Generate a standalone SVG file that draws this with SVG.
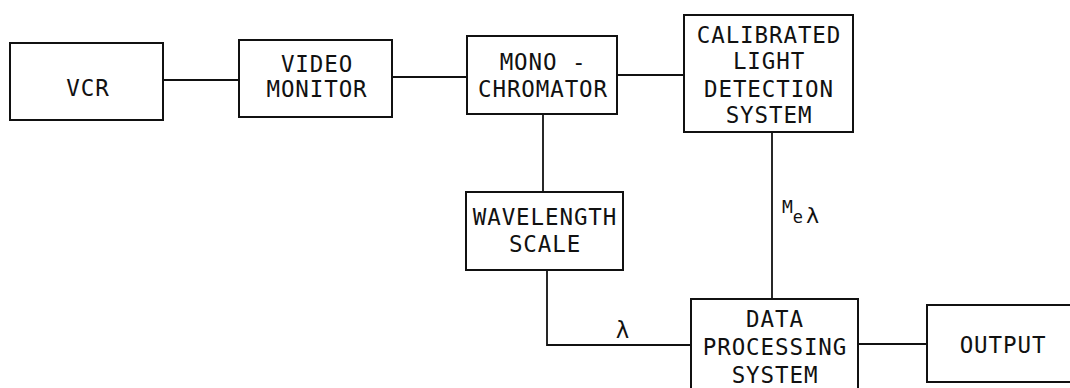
<svg xmlns="http://www.w3.org/2000/svg" width="1070" height="388" viewBox="0 0 1070 388">
<style>
.box{fill:#fff;stroke:#111;stroke-width:2}
.ln{fill:none;stroke:#111;stroke-width:1.8}
text{font-family:"DejaVu Sans Mono","Liberation Mono",monospace;font-size:22.5px;letter-spacing:0.9px;fill:#111;text-anchor:middle}
</style>
<rect width="1070" height="388" fill="#fff"/>
<g id="connectors">
<line class="ln" x1="163" y1="80" x2="239" y2="80"/>
<line class="ln" x1="392" y1="77" x2="467" y2="77"/>
<line class="ln" x1="617" y1="75" x2="684" y2="75"/>
<line class="ln" x1="543" y1="114" x2="543" y2="192"/>
<polyline class="ln" points="547,270 547,345 691,345"/>
<line class="ln" x1="772" y1="132" x2="772" y2="299"/>
<line class="ln" x1="858" y1="344" x2="927" y2="344"/>
<text x="623" y="338">λ</text>
<text x="782" y="213" style="text-anchor:start;font-size:18px;letter-spacing:0">M<tspan dy="10" font-size="17">e</tspan><tspan dx="3" font-size="22">λ</tspan></text>
</g>
<g id="vcr">
<rect class="box" x="10" y="43" width="153" height="77"/>
<text x="88" y="96">VCR</text>
</g>
<g id="video-monitor">
<rect class="box" x="239" y="40" width="153" height="77"/>
<text x="317" y="72">VIDEO</text>
<text x="317" y="97">MONITOR</text>
</g>
<g id="monochromator">
<rect class="box" x="467" y="36" width="150" height="78"/>
<text x="543" y="70">MONO -</text>
<text x="543" y="97">CHROMATOR</text>
</g>
<g id="calibrated">
<rect class="box" x="684" y="15" width="169" height="117"/>
<text x="769" y="43">CALIBRATED</text>
<text x="769" y="69">LIGHT</text>
<text x="769" y="97">DETECTION</text>
<text x="769" y="123">SYSTEM</text>
</g>
<g id="wavelength-scale">
<rect class="box" x="466" y="192" width="157" height="78"/>
<text x="545" y="225">WAVELENGTH</text>
<text x="545" y="252">SCALE</text>
</g>
<g id="data-processing">
<rect class="box" x="691" y="299" width="167" height="100"/>
<text x="775" y="327">DATA</text>
<text x="775" y="355">PROCESSING</text>
<text x="775" y="383">SYSTEM</text>
</g>
<g id="output">
<rect class="box" x="927" y="305" width="160" height="77"/>
<text x="1003" y="353">OUTPUT</text>
</g>
</svg>
